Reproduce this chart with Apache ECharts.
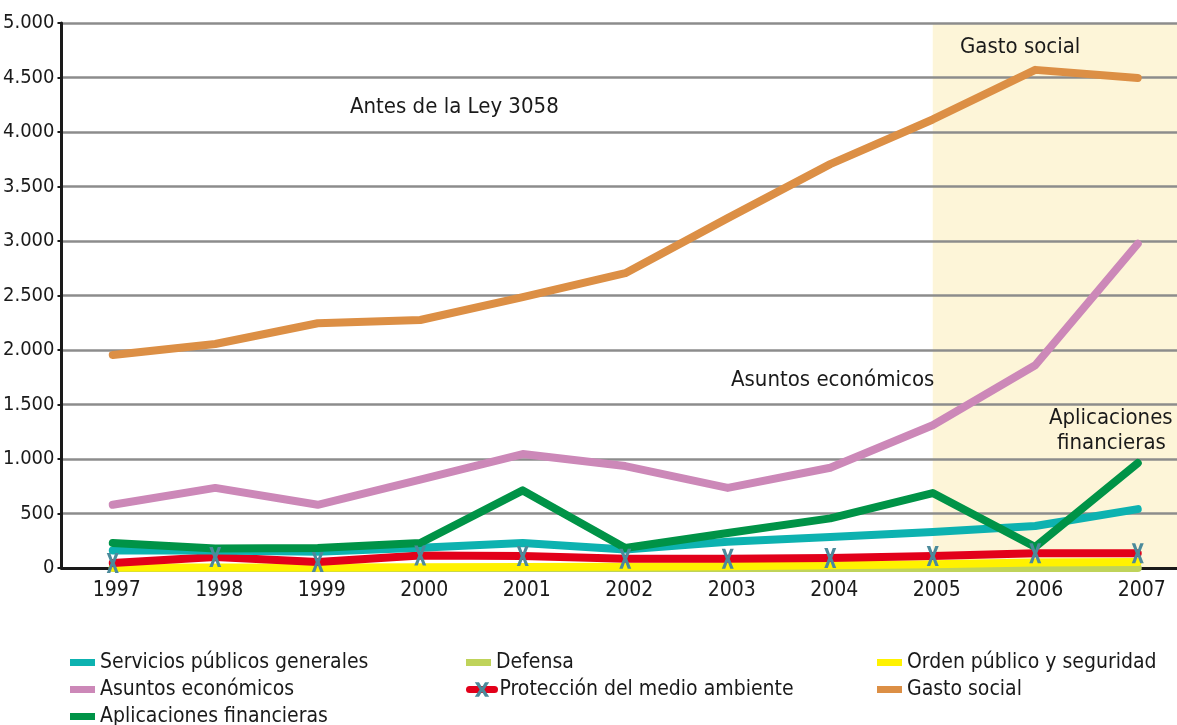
<!DOCTYPE html>
<html>
<head>
<meta charset="utf-8">
<script src="https://cdn.jsdelivr.net/npm/echarts@6/dist/echarts.min.js"></script>
<style>
html,body{margin:0;padding:0;background:#fff;overflow:hidden;width:1177px;height:725px;}
#chart{width:1189px;height:725px;}
</style>
</head>
<body>
<div id="chart"></div>
<script>
const years = ['1997','1998','1999','2000','2001','2002','2003','2004','2005','2006','2007'];
const yTicks = [0, 500, 1000, 1500, 2000, 2500, 3000, 3500, 4000, 4500, 5000];

const servicios = [160, 160, 150, 185, 230, 170, 240, 285, 330, 385, 540];
const defensa = [0, 0, 0, 0, 0, 0, 0, 0, 0, 0, 0];
const orden = [5, 5, 5, 8, 10, 12, 15, 25, 35, 50, 55];
const asuntos = [580, 735, 580, 810, 1045, 935, 735, 920, 1310, 1860, 2975];
const proteccion = [45, 100, 55, 115, 110, 85, 85, 92, 110, 135, 135];
const gasto = [1955, 2055, 2245, 2275, 2485, 2705, 3210, 3705, 4115, 4570, 4495];
const aplicaciones = [229, 178, 183, 229, 712, 183, 321, 455, 688, 193, 963];

const names = {
  servicios: 'Servicios públicos generales',
  defensa: 'Defensa',
  orden: 'Orden público y seguridad',
  asuntos: 'Asuntos económicos',
  proteccion: 'Protección del medio ambiente',
  gasto: 'Gasto social',
  aplicaciones: 'Aplicaciones financieras'
};

const FONT = "'Liberation Sans Narrow', 'DejaVu Sans Condensed', 'Roboto Condensed', sans-serif";
const xMark = 'path://M0,0 L3.5,0 L6,7 L8.5,0 L12,0 L8,10 L12,20 L8.5,20 L6,13 L3.5,20 L0,20 L4,10 Z';
const barIcon = 'path://M0,0 L0.01,0 L0.01,0.01 Z M0,5.5 L25,5.5 L25,12.5 L0,12.5 Z M24.99,18 L25,18 L25,17.99 Z';

function lineSeries(name, data, color, extra) {
  return Object.assign({
    name: name,
    type: 'line',
    data: data,
    symbol: 'none',
    lineStyle: { color: color, width: 8, cap: 'round', join: 'round' },
    itemStyle: { color: color },
    z: 3,
    animation: false
  }, extra || {});
}

// legend layout: [name, column left, row top, icon]
const legendLayout = [
  [names.servicios, 70, 652, barIcon],
  [names.asuntos, 70, 679, barIcon],
  [names.aplicaciones, 70, 706, barIcon],
  [names.defensa, 466, 652, barIcon],
  [names.proteccion, 466, 679, null],
  [names.orden, 877, 652, barIcon],
  [names.gasto, 877, 679, barIcon]
];

const legends = legendLayout.map(([name, left, top, icon]) => ({
  orient: 'horizontal',
  left: left,
  top: top,
  padding: 0,
  itemWidth: 25,
  itemHeight: 18,
  textStyle: { fontFamily: FONT, fontSize: 21, color: '#1a1a1a' },
  lineStyle: { width: 7 },
  selectedMode: false,
  data: [icon ? { name: name, icon: icon } : { name: name }]
}));

const chart = echarts.init(document.getElementById('chart'));
chart.setOption({
  animation: false,
  backgroundColor: '#ffffff',
  grid: { left: 61, top: 23, right: 0, bottom: 157, containLabel: false },
  xAxis: {
    type: 'category',
    data: years,
    boundaryGap: true,
    axisLine: { lineStyle: { color: '#1a1a1a', width: 3 } },
    axisTick: { show: false },
    axisLabel: { fontFamily: FONT, fontSize: 21, color: '#1a1a1a', margin: 12, padding: [0, 0, 0, 8] },
    splitLine: { show: false }
  },
  yAxis: {
    type: 'value',
    min: yTicks[0],
    max: yTicks[yTicks.length - 1],
    interval: 500,
    axisLine: { show: true, lineStyle: { color: '#1a1a1a', width: 3 } },
    axisTick: { show: true, length: 4, lineStyle: { color: '#1a1a1a', width: 2 } },
    axisLabel: {
      fontFamily: FONT, fontSize: 20, color: '#1a1a1a', margin: 7,
      formatter: v => v.toLocaleString('de-DE')
    },
    splitLine: { show: true, lineStyle: { color: '#8c8c8c', width: 2.5 } }
  },
  legend: legends,
  series: [
    {
      name: 'shade',
      type: 'line',
      data: [],
      z: -1,
      silent: true,
      markArea: {
        silent: true,
        z: -1,
        itemStyle: { color: '#fdf5d8' },
        data: [[{ xAxis: '2005' }, {}]]
      }
    },
    lineSeries(names.defensa, defensa, '#bfd35a', { z: 2 }),
    lineSeries(names.orden, orden, '#fff200'),
    lineSeries(names.proteccion, proteccion, '#e2001a', {
      symbol: xMark,
      symbolSize: [12, 20],
      showSymbol: true,
      itemStyle: { color: '#4b8a9b' }
    }),
    lineSeries(names.servicios, servicios, '#0db2b0'),
    lineSeries(names.aplicaciones, aplicaciones, '#009347'),
    lineSeries(names.asuntos, asuntos, '#cc88b8'),
    lineSeries(names.gasto, gasto, '#dc8f45')
  ],
  graphic: [
    { type: 'text', z: 100, left: 350, top: 96, style: { text: 'Antes de la Ley 3058', fontFamily: FONT, fontSize: 22, fill: '#1a1a1a' } },
    { type: 'text', z: 100, left: 960, top: 36, style: { text: 'Gasto social', fontFamily: FONT, fontSize: 22, fill: '#1a1a1a' } },
    { type: 'text', z: 100, left: 731, top: 369, style: { text: 'Asuntos económicos', fontFamily: FONT, fontSize: 22, fill: '#1a1a1a' } },
    { type: 'text', z: 100, left: 1049, top: 407, style: { text: 'Aplicaciones', fontFamily: FONT, fontSize: 22, fill: '#1a1a1a' } },
    { type: 'text', z: 100, left: 1057, top: 432, style: { text: 'financieras', fontFamily: FONT, fontSize: 22, fill: '#1a1a1a' } }
  ]
});
</script>
</body>
</html>
